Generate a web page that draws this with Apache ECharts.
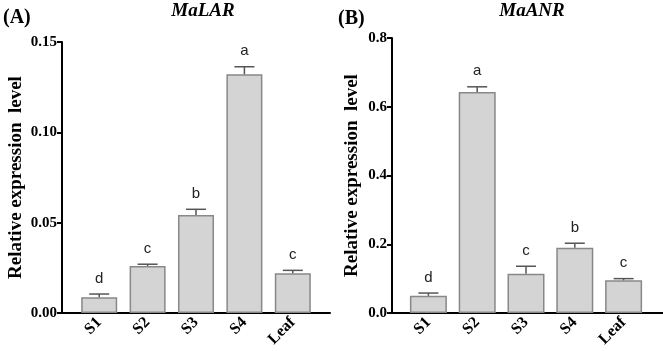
<!DOCTYPE html>
<html>
<head>
<meta charset="utf-8">
<script src="https://cdn.jsdelivr.net/npm/echarts@6/dist/echarts.min.js"></script>
<style>
  html, body { margin: 0; padding: 0; background: #fff; }
  #main { width: 663px; height: 351px; }
</style>
</head>
<body>
<div id="main"></div>
<script>
var cats = ['S1', 'S2', 'S3', 'S4', 'Leaf'];
// MaLAR
var larMean = [0.0087, 0.026, 0.0542, 0.1321, 0.022];
var larErr = [0.0018, 0.001, 0.0032, 0.0042, 0.0016];
var larLetters = ['d', 'c', 'b', 'a', 'c'];
// MaANR
var anrMean = [0.050, 0.643, 0.114, 0.190, 0.095];
var anrErr = [0.008, 0.015, 0.022, 0.013, 0.005];
var anrLetters = ['d', 'a', 'c', 'b', 'c'];

var serif = '"Liberation Serif", "Times New Roman", serif';
var sans = '"Liberation Sans", Arial, sans-serif';

function errData(mean, err, letters) {
  var arr = [];
  for (var i = 0; i < mean.length; i++) {
    arr.push([i, mean[i], mean[i] + err[i], letters[i]]);
  }
  return arr;
}

function renderErr(params, api) {
  var x = api.value(0);
  var lo = api.coord([x, api.value(1)]);
  var hi = api.coord([x, api.value(2)]);
  var cap = 10;
  return {
    type: 'group',
    children: [
      { type: 'line', shape: { x1: lo[0], y1: lo[1], x2: hi[0], y2: hi[1] },
        style: { stroke: '#555', lineWidth: 1.5 } },
      { type: 'line', shape: { x1: hi[0] - cap, y1: hi[1], x2: hi[0] + cap, y2: hi[1] },
        style: { stroke: '#555', lineWidth: 1.5 } },
      { type: 'text', x: hi[0], y: hi[1] - 8,
        style: { text: api.value(3), font: '15px ' + sans, fill: '#222',
                 textAlign: 'center', textVerticalAlign: 'bottom' } }
    ]
  };
}

function yAxisOf(gridIndex, max, interval, digits, offset, nameGap) {
  return {
    type: 'value', gridIndex: gridIndex, min: 0, max: max, interval: interval,
    offset: offset,
    name: 'Relative expression  level', nameLocation: 'middle', nameGap: nameGap,
    nameTextStyle: { fontFamily: serif, fontWeight: 'bold', fontSize: 19, color: '#000' },
    axisLine: { show: true, lineStyle: { color: '#000', width: 2 } },
    axisTick: { show: true, length: 5, lineStyle: { color: '#000', width: 2 } },
    axisLabel: { margin: 5, fontFamily: serif, fontWeight: 'bold', fontSize: 15, color: '#000',
      formatter: function (v) { return v.toFixed(digits); } },
    splitLine: { show: false }
  };
}

function catAxis(gridIndex) {
  return {
    type: 'category', gridIndex: gridIndex, data: cats,
    axisLine: { show: false }, axisTick: { show: false },
    axisLabel: { rotate: 45, margin: 7, fontFamily: serif, fontWeight: 'bold', fontSize: 16, color: '#000' }
  };
}

function lineAxisX(gridIndex) {
  return {
    type: 'value', gridIndex: gridIndex, min: 0, max: 1,
    axisLine: { show: true, onZero: false, lineStyle: { color: '#000', width: 2 } },
    axisTick: { show: false }, axisLabel: { show: false }, splitLine: { show: false }
  };
}

function hiddenY(gridIndex) {
  return { type: 'value', gridIndex: gridIndex, min: 0, max: 1, show: false };
}

var barStyle = { color: '#d4d4d4', borderColor: '#888', borderWidth: 1.5 };

var option = {
  animation: false,
  backgroundColor: '#fff',
  title: [
    { text: '(A)', left: -2, top: 3, textStyle: { fontFamily: serif, fontWeight: 'bold', fontSize: 20, color: '#000' } },
    { text: 'MaLAR', left: 198, top: -3, textAlign: 'center',
      textStyle: { fontFamily: serif, fontWeight: 'bold', fontStyle: 'italic', fontSize: 19, color: '#000' } },
    { text: '(B)', left: 333, top: 4, textStyle: { fontFamily: serif, fontWeight: 'bold', fontSize: 20, color: '#000' } },
    { text: 'MaANR', left: 527, top: -3, textAlign: 'center',
      textStyle: { fontFamily: serif, fontWeight: 'bold', fontStyle: 'italic', fontSize: 19, color: '#000' } }
  ],
  grid: [
    { left: 75, top: 42, width: 242, height: 271 },
    { left: 404, top: 38, width: 244, height: 275 },
    { left: 62, top: 42, width: 268, height: 271 },
    { left: 392, top: 38, width: 271, height: 275 }
  ],
  xAxis: [catAxis(0), catAxis(1), lineAxisX(2), lineAxisX(3)],
  yAxis: [
    yAxisOf(0, 0.15, 0.05, 2, 13, 36),
    yAxisOf(1, 0.8, 0.2, 1, 12, 30),
    hiddenY(2), hiddenY(3)
  ],
  series: [
    { type: 'bar', xAxisIndex: 0, yAxisIndex: 0, data: larMean, barWidth: 36, itemStyle: barStyle },
    { type: 'custom', xAxisIndex: 0, yAxisIndex: 0, data: errData(larMean, larErr, larLetters),
      renderItem: renderErr, z: 3 },
    { type: 'bar', xAxisIndex: 1, yAxisIndex: 1, data: anrMean, barWidth: 37, itemStyle: barStyle },
    { type: 'custom', xAxisIndex: 1, yAxisIndex: 1, data: errData(anrMean, anrErr, anrLetters),
      renderItem: renderErr, z: 3 }
  ]
};

var myChart = echarts.init(document.getElementById('main'));
myChart.setOption(option);
</script>
</body>
</html>
